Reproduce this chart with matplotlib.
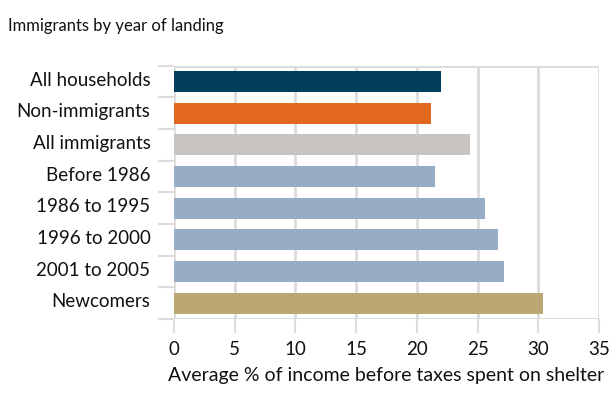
import matplotlib
matplotlib.use("Agg")
import matplotlib.pyplot as plt
import matplotlib.transforms as mtransforms
from matplotlib.ticker import FixedLocator

plt.rcParams['font.family'] = ['Lato', 'DejaVu Sans']

categories = ["All households", "Non-immigrants", "All immigrants", "Before 1986",
              "1986 to 1995", "1996 to 2000", "2001 to 2005", "Newcomers"]
values = [22.0, 21.2, 24.4, 21.5, 25.6, 26.7, 27.2, 30.4]
colors = ["#023f5f", "#e3681f", "#c8c4c1", "#96adc5",
          "#96adc5", "#96adc5", "#96adc5", "#baa774"]
xticks = [0, 5, 10, 15, 20, 25, 30, 35]

W, H = 611, 393
fig = plt.figure(figsize=(W / 100, H / 100), dpi=100)
ax = fig.add_axes([174 / W, 1 - 319 / H, (599 - 174) / W, (319 - 65.7) / H])

grid_c = "#dcdcdd"
text_c = "#111111"
ypos = list(range(len(categories)))
ax.barh(ypos, values, height=0.67, color=colors, zorder=3)

ax.set_xlim(0, 35)
ax.set_ylim(len(categories) - 0.5, -0.5)

for s in ax.spines.values():
    s.set_visible(False)

# vertical grid at each tick, frame lines at top and bottom
for x in xticks:
    ax.axvline(x, color=grid_c, lw=2, zorder=1)
ax.axhline(-0.5, color=grid_c, lw=2, zorder=1)
ax.axhline(len(categories) - 0.5, color=grid_c, lw=2, zorder=1)

ax.set_xticks(xticks)
ax.set_xticklabels([str(x) for x in xticks])
ax.tick_params(axis='x', length=10, width=1.5, color=grid_c, pad=6,
               labelsize=13.5, labelcolor=text_c)

ax.set_yticks(ypos)
ax.set_yticklabels(categories)
ax.tick_params(axis='y', which='major', length=0, pad=17, labelsize=13.5,
               labelcolor=text_c)
ax.yaxis.set_minor_locator(FixedLocator([i - 0.5 for i in range(len(categories) + 1)]))
ax.tick_params(axis='y', which='minor', length=11.5, width=1.5, color=grid_c)

# lift category labels slightly above bar centres
lift = mtransforms.ScaledTranslation(0, 3 / 100, fig.dpi_scale_trans)
for lbl in ax.get_yticklabels():
    lbl.set_transform(lbl.get_transform() + lift)

ax.set_xlabel("Average % of income before taxes spent on shelter",
              fontsize=14, color=text_c, labelpad=6)

fig.text(8 / W, 1 - 26 / H, "Immigrants by year of landing", fontsize=12,
         va="center", ha="left", color=text_c)

fig.savefig("out.png", dpi=100)
